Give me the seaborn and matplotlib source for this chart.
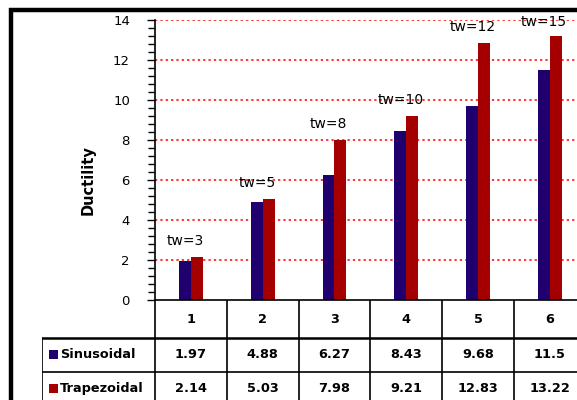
import matplotlib
matplotlib.use("Agg")
import matplotlib.pyplot as plt
import seaborn as sns
import pandas as pd
from matplotlib.lines import Line2D
from matplotlib.patches import Rectangle

categories = ["1", "2", "3", "4", "5", "6"]
sinusoidal = [1.97, 4.88, 6.27, 8.43, 9.68, 11.5]
trapezoidal = [2.14, 5.03, 7.98, 9.21, 12.83, 13.22]
sin_labels = ["1.97", "4.88", "6.27", "8.43", "9.68", "11.5"]
trap_labels = ["2.14", "5.03", "7.98", "9.21", "12.83", "13.22"]
tw_labels = ["tw=3", "tw=5", "tw=8", "tw=10", "tw=12", "tw=15"]
series_names = ["Sinusoidal", "Trapezoidal"]
colors = ["#20006E", "#A50000"]

df = pd.DataFrame({
    "cat": categories * 2,
    "val": sinusoidal + trapezoidal,
    "series": [series_names[0]] * 6 + [series_names[1]] * 6,
})

sns.set_theme(style="white")
plt.rcParams["font.family"] = ["DejaVu Sans"]
plt.rcParams["text.color"] = "black"
plt.rcParams["axes.labelcolor"] = "black"
plt.rcParams["xtick.color"] = "black"
plt.rcParams["ytick.color"] = "black"

W, H = 577, 400
fig = plt.figure(figsize=(5.77, 4.0), dpi=100)
fig.patch.set_facecolor("white")

colw = 71.8
x0 = 155
ax = fig.add_axes([x0 / W, 1 - 300 / H, 6 * colw / W, 280 / H])
sns.barplot(data=df, x="cat", y="val", hue="series", palette=colors,
            width=0.33, gap=0, saturation=1, ax=ax, legend=False, errorbar=None,
            linewidth=0, edgecolor="none")
ax.set_xlim(-0.5, 5.5)
ax.set_ylim(0, 14)
ax.set_xlabel("")
ax.set_ylabel("")
ax.set_xticks([])
ax.set_yticks(range(0, 15, 2))
ax.set_yticks([i * 0.4 for i in range(36)], minor=True)
ax.tick_params(axis="y", which="major", length=6, width=1, color="black",
               labelsize=9.5, pad=12, left=True, direction="out", labelcolor="black")
ax.tick_params(axis="y", which="minor", length=5, width=1, color="black", left=True)
for s in ["top", "right"]:
    ax.spines[s].set_visible(False)
for s in ["left", "bottom"]:
    ax.spines[s].set_color("black")
    ax.spines[s].set_linewidth(1.2)
ax.grid(False)
for yv in range(2, 15, 2):
    ax.axhline(yv, color="#FF0000", linestyle=(0, (1.5, 2.0)), linewidth=1.1, zorder=0)

for i, lab in enumerate(tw_labels):
    top = max(sinusoidal[i], trapezoidal[i])
    ax.text(i - 0.08, min(top + 0.8, 13.9), lab, ha="center", va="center",
            fontsize=10, fontweight="medium", color="black", clip_on=False)

fig.text(88 / W, 1 - 180 / H, "Ductility", rotation=90, ha="center", va="center",
         fontsize=10.5, fontweight="bold", color="black")

# data table
xl_px = 42
left_cat = -0.5 - (x0 - xl_px) / colw
tab = fig.add_axes([xl_px / W, 1 - 410 / H, (x0 + 6 * colw - xl_px) / W, 110 / H])
tab.set_xlim(left_cat, 5.5)
tab.set_ylim(410, 300)
tab.axis("off")

def cx(px):
    return -0.5 + (px - x0) / colw

for k in range(7):
    tab.plot([k - 0.5, k - 0.5], [300, 410], color="black", lw=1.2)
tab.plot([left_cat, left_cat], [338, 410], color="black", lw=1.2)
tab.plot([left_cat, 5.5], [338, 338], color="black", lw=1.8)
tab.plot([left_cat, 5.5], [372, 372], color="black", lw=1.2)

fs = 9.3
for i, c in enumerate(categories):
    tab.text(i, 320, c, ha="center", va="center", fontsize=fs, fontweight="bold", color="black")
    tab.text(i, 355, sin_labels[i], ha="center", va="center", fontsize=fs, fontweight="bold", color="black")
    tab.text(i, 389, trap_labels[i], ha="center", va="center", fontsize=fs, fontweight="bold", color="black")

for r, (name, colr) in enumerate(zip(series_names, colors)):
    yc = 355 + r * 34
    tab.add_patch(Rectangle((cx(49), yc - 4.5), cx(58) - cx(49), 9, color=colr, lw=0))
    tab.text(cx(60), yc, name, ha="left", va="center", fontsize=fs, fontweight="bold", color="black")

# outer frame (cropped chart border)
fig.add_artist(Line2D([11 / W, 11 / W], [0, 1 - 8 / H], color="black", lw=3.2,
                      solid_capstyle="butt", transform=fig.transFigure))
fig.add_artist(Line2D([9 / W, 1.0], [1 - 10 / H, 1 - 10 / H], color="black", lw=3.2,
                      solid_capstyle="butt", transform=fig.transFigure))

fig.savefig("out.png", dpi=100)
